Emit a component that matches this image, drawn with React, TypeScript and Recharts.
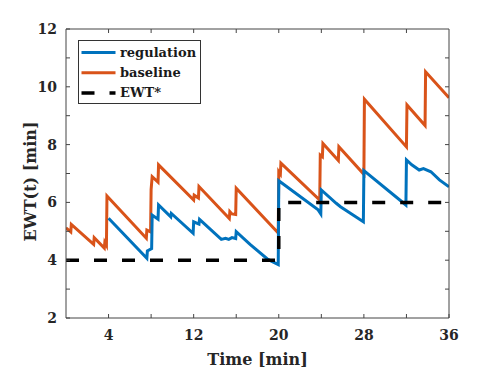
import React from 'react';
import { LineChart, Line, XAxis, YAxis } from 'recharts';

const baselineTime = [0, 0.45, 0.5, 2.6, 2.65, 3.6, 3.65, 3.8, 3.85, 7.55, 7.6, 7.95, 8.0, 8.1, 8.65, 8.7, 12.0, 12.05, 12.45, 12.5, 15.35, 15.4, 15.6, 15.95, 16.0, 19.95, 20.0, 20.15, 20.2, 23.85, 23.9, 24.1, 24.15, 25.6, 25.65, 28.0, 28.05, 32.0, 32.05, 33.75, 33.8, 36];
const baselineEwt = [5.12, 4.98, 5.24, 4.55, 4.78, 4.42, 4.62, 4.52, 6.22, 4.76, 5.04, 4.98, 6.45, 6.89, 6.7, 7.3, 6.08, 6.25, 6.15, 6.55, 5.44, 5.68, 5.6, 5.58, 6.49, 4.94, 7.06, 6.98, 7.36, 6.08, 7.64, 7.58, 8.04, 7.45, 7.93, 6.97, 9.57, 7.92, 9.37, 8.66, 10.52, 9.62];

const regulationTime = [4.0, 7.6, 7.65, 8.05, 8.1, 8.65, 8.7, 9.85, 9.9, 11.95, 12.0, 12.5, 12.55, 14.6, 15.0, 15.3, 15.6, 15.95, 16.0, 17.3, 18.9, 19.3, 19.95, 20.0, 23.7, 23.95, 24.0, 25.4, 25.8, 27.95, 28.0, 31.95, 32.0, 32.5, 33.2, 33.6, 34.3, 35.1, 36];
const regulationEwt = [5.45, 4.07, 4.32, 4.4, 5.56, 5.42, 5.91, 5.5, 5.62, 4.93, 5.33, 5.25, 5.41, 4.72, 4.76, 4.72, 4.78, 4.75, 4.99, 4.55, 4.05, 3.97, 3.85, 6.75, 5.74, 5.6, 6.43, 5.97, 5.85, 5.33, 7.1, 5.91, 7.47, 7.3, 7.12, 7.17, 7.06, 6.78, 6.54];

const targetTime = [0, 20, 20, 36];
const targetEwt = [4, 4, 6, 6];

const xTicks = [4, 8, 12, 16, 20, 24, 28, 32, 36];
const xLabelTicks = [4, 12, 20, 28, 36];
const yTicks = [2, 3, 4, 5, 6, 7, 8, 9, 10, 11, 12];
const yLabelTicks = [2, 4, 6, 8, 10, 12];

const X_DOMAIN: [number, number] = [0, 36];
const Y_DOMAIN: [number, number] = [2, 12];

const toPoints = (xs: number[], ys: number[]) => xs.map((x, i) => ({ t: x, v: ys[i] }));
const baselineData = toPoints(baselineTime, baselineEwt);
const regulationData = toPoints(regulationTime, regulationEwt);
const targetData = toPoints(targetTime, targetEwt);

const BLUE = '#0072BD';
const ORANGE = '#D95319';
const FONT = '"DejaVu Serif", serif';
const AXIS = '#444444';

// layout constants (shared by the chart and the frame overlay)
const CHART_W = 490;
const CHART_H = 363;
const MARGIN = { top: 21, right: 49, bottom: 0, left: 0 };
const Y_AXIS_W = 58;
const X_AXIS_H = 53;
const PLOT_L = MARGIN.left + Y_AXIS_W;
const PLOT_T = MARGIN.top;
const PLOT_R = CHART_W - MARGIN.right;
const PLOT_B = CHART_H - MARGIN.bottom - X_AXIS_H;
const TICK_LEN = 4;

const legendItems = [
  { name: 'regulation', color: BLUE, dash: undefined as string | undefined },
  { name: 'baseline', color: ORANGE, dash: undefined as string | undefined },
  { name: 'EWT*', color: '#000000', dash: '13 15' },
];

const LegendBox = () => (
  <svg width={123} height={64} style={{ display: 'block' }}>
    <rect x={0.5} y={0.5} width={122} height={63} fill="#ffffff" stroke="#333333" strokeWidth={1} />
    {legendItems.map((it, i) => (
      <g key={it.name}>
        <line x1={3.5} x2={37.5} y1={12.5 + i * 20.2} y2={12.5 + i * 20.2} stroke={it.color} strokeWidth={it.dash ? 3.5 : 3} strokeDasharray={it.dash} />
        <text x={42} y={12.5 + i * 20.2} dy="0.35em" fontFamily={FONT} fontWeight="bold" fontSize={13} fill="#1a1a1a">{it.name}</text>
      </g>
    ))}
  </svg>
);

const YLabel = (props: any) => {
  const vb = props.viewBox || { x: 0, y: 0, width: 0, height: 0 };
  const cx = 22;
  const cy = vb.y + vb.height / 2 + 8;
  return (
    <text x={cx} y={cy} transform={`rotate(-90, ${cx}, ${cy})`} textAnchor="middle" dominantBaseline="central" fontFamily={FONT} fontWeight="bold" fontSize={16} fill="#262626">EWT(t) [min]</text>
  );
};

// top and right edges of the axes box with inward ticks
const Frame = () => {
  const sx = (t: number) => PLOT_L + ((t - X_DOMAIN[0]) / (X_DOMAIN[1] - X_DOMAIN[0])) * (PLOT_R - PLOT_L);
  const sy = (v: number) => PLOT_B - ((v - Y_DOMAIN[0]) / (Y_DOMAIN[1] - Y_DOMAIN[0])) * (PLOT_B - PLOT_T);
  return (
    <svg width={CHART_W} height={CHART_H} style={{ position: 'absolute', left: 0, top: 0, pointerEvents: 'none' }}>
      <line x1={PLOT_L} x2={PLOT_R} y1={PLOT_T} y2={PLOT_T} stroke={AXIS} strokeWidth={1} />
      <line x1={PLOT_R} x2={PLOT_R} y1={PLOT_T} y2={PLOT_B} stroke={AXIS} strokeWidth={1} />
      {xTicks.filter((t) => t < X_DOMAIN[1]).map((t) => (
        <line key={`tx${t}`} x1={sx(t)} x2={sx(t)} y1={PLOT_T} y2={PLOT_T + TICK_LEN} stroke={AXIS} strokeWidth={1} />
      ))}
      {yTicks.filter((t) => t > Y_DOMAIN[0] && t < Y_DOMAIN[1]).map((t) => (
        <line key={`ty${t}`} x1={PLOT_R} x2={PLOT_R - TICK_LEN} y1={sy(t)} y2={sy(t)} stroke={AXIS} strokeWidth={1} />
      ))}
    </svg>
  );
};

export default function App() {
  return (
    <div style={{ width: CHART_W, height: CHART_H, position: 'relative' }}>
      <LineChart width={CHART_W} height={CHART_H} data={baselineData} margin={MARGIN}>
        <XAxis
          dataKey="t"
          type="number"
          domain={X_DOMAIN}
          ticks={xTicks}
          allowDataOverflow
          height={X_AXIS_H}
          tickSize={-TICK_LEN}
          tickMargin={16}
          stroke={AXIS}
          tick={{ fontFamily: FONT, fontWeight: 'bold', fontSize: 14, fill: '#262626' }}
          tickFormatter={(v: number) => (xLabelTicks.includes(v) ? String(v) : '')}
          label={{ value: 'Time [min]', position: 'insideBottom', offset: 6, fontFamily: FONT, fontWeight: 'bold', fontSize: 16, fill: '#262626' }}
        />
        <YAxis
          type="number"
          domain={Y_DOMAIN}
          ticks={yTicks}
          allowDataOverflow
          width={Y_AXIS_W}
          tickSize={-TICK_LEN}
          tickMargin={13}
          stroke={AXIS}
          tick={{ fontFamily: FONT, fontWeight: 'bold', fontSize: 14, fill: '#262626' }}
          tickFormatter={(v: number) => (yLabelTicks.includes(v) ? String(v) : '')}
          label={<YLabel />}
        />
        <Line data={baselineData} dataKey="v" type="linear" stroke={ORANGE} strokeWidth={3} dot={false} isAnimationActive={false} />
        <Line data={regulationData} dataKey="v" type="linear" stroke={BLUE} strokeWidth={3} dot={false} isAnimationActive={false} />
        <Line data={targetData} dataKey="v" type="linear" stroke="#000000" strokeWidth={3.5} strokeDasharray="13 15" dot={false} isAnimationActive={false} />
      </LineChart>
      <Frame />
      <div style={{ position: 'absolute', left: 70, top: 32 }}>
        <LegendBox />
      </div>
    </div>
  );
}
